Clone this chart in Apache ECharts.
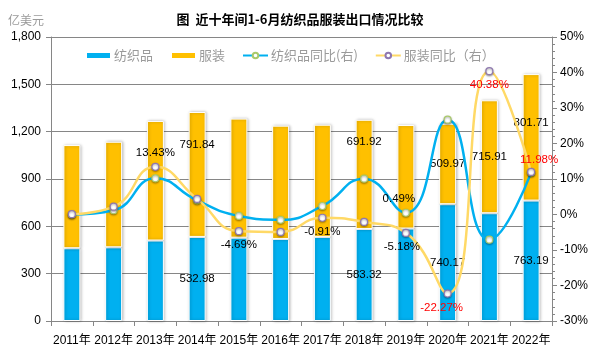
<!DOCTYPE html>
<html><head><meta charset="utf-8">
<script src="https://cdn.jsdelivr.net/npm/echarts@6/dist/echarts.min.js"></script>
<style>html,body{margin:0;padding:0;background:#fff}#c{width:600px;height:363px}</style>
</head><body><div id="c"></div>
<script>
const categories = ['2011年','2012年','2013年','2014年','2015年','2016年','2017年','2018年','2019年','2020年','2021年','2022年'];
const textile = [461, 467, 510, 532.98, 528, 520, 533, 583.32, 586, 740.17, 683, 763.19];
const apparel = [654, 669, 758, 791.84, 755, 718, 711, 691.92, 656, 509.97, 715.91, 801.71];
const textileYoY = [0.0, 1.2, 10.2, 4.0, -0.4, -1.5, 2.4, 10.1, 0.49, 26.7, -7.1, 11.8];
const apparelYoY = [0.1, 2.2, 13.43, 4.4, -4.69, -4.9, -0.91, -2.1, -5.18, -22.27, 40.38, 11.98];
const leftTicks = [0, 300, 600, 900, 1200, 1500, 1800];
const rightTicks = [-30, -20, -10, 0, 10, 20, 30, 40, 50];

const FONT = 'Liberation Sans, Arial, Noto Sans CJK SC, sans-serif';
const CJK = 'Noto Sans CJK SC, sans-serif';

// label styling (which points carry labels)
const textileBarLabel = {3:{}, 7:{}, 9:{}, 11:{}};
const apparelBarLabel = {3:{offset:[0,-30]}, 7:{offset:[0,-33]}, 9:{}, 10:{}, 11:{offset:[0,-15]}};
const apparelLineLabel = {2:{position:'top'}, 4:{position:'bottom'}, 6:{position:'bottom'}, 8:{position:'bottom', offset:[-4,0]},
  9:{position:'bottom', color:'#FF0000', offset:[-6,0]}, 10:{position:'bottom', color:'#FF0000'}, 11:{position:'top', color:'#FF0000', offset:[8,2]}};
const textileLineLabel = {8:{position:'top', offset:[-7,0]}};

function build(values, map, fmt, base) {
  return values.map((v, i) => {
    const m = map[i];
    if (!m) return {value: v, label: {show: false}};
    return {value: v, label: Object.assign({show: true, formatter: () => fmt(v)}, base, m)};
  });
}
const lbl = {fontSize: 11.5, fontFamily: FONT, color: '#000'};
const barShadow = {borderColor:'#fff', borderWidth:1, shadowColor:'rgba(0,0,0,0.28)', shadowBlur:3, shadowOffsetX:1};

const chart = echarts.init(document.getElementById('c'), null, {renderer:'canvas'});
chart.setOption({
  animation: false,
  backgroundColor: '#fff',
  title: [
    {text: '图  近十年间1-6月纺织品服装出口情况比较', left: 'center', top: 8,
     textStyle: {fontSize: 13, fontWeight: 'bold', color: '#000', fontFamily: CJK}},
    {text: '亿美元', left: 3, top: 9, textStyle: {fontSize: 12, fontWeight: 'normal', color: '#9a9a9a', fontFamily: CJK}}
  ],
  legend: {
    left: 80, top: 44, itemWidth: 25, itemHeight: 7, itemGap: 17,
    textStyle: {fontSize: 13, color: '#9a9a9a', fontFamily: CJK, padding:[0,0,0,-2]},
    data: [
      {name: '纺织品', icon: 'rect'},
      {name: '服装', icon: 'rect'},
      {name: '纺织品同比(右)'},
      {name: '服装同比（右）'}
    ]
  },
  grid: {left: 51, right: 48, top: 37, bottom: 42},
  xAxis: {
    type: 'category', data: categories, boundaryGap: true,
    axisLine: {lineStyle: {color: '#868686'}},
    axisTick: {show: true, alignWithLabel: false, length: 5, lineStyle: {color: '#868686'}},
    axisLabel: {fontSize: 12, color: '#000', fontFamily: FONT, margin: 14, interval: 0}
  },
  yAxis: [
    {type: 'value', min: leftTicks[0], max: leftTicks[leftTicks.length-1], interval: 300,
     axisLine: {show: true, lineStyle: {color: '#868686'}},
     axisTick: {show: true, length: 5, lineStyle: {color: '#868686'}},
     splitLine: {show: true, lineStyle: {color: '#868686', width: 1}},
     axisLabel: {fontSize: 12, color: '#000', fontFamily: FONT, margin: 10,
       formatter: v => v.toLocaleString('en-US')}},
    {type: 'value', min: rightTicks[0], max: rightTicks[rightTicks.length-1], interval: 10,
     axisLine: {show: true, lineStyle: {color: '#868686'}},
     axisTick: {show: true, length: 5, lineStyle: {color: '#868686'}},
     minorTick: {show: true, splitNumber: 5, length: 3, lineStyle: {color: '#868686'}},
     splitLine: {show: false},
     axisLabel: {fontSize: 12, color: '#000', fontFamily: FONT, margin: 8, formatter: '{value}%'}}
  ],
  series: [
    {name: '纺织品', type: 'bar', stack: 'total', barWidth: 17, z: 2,
     itemStyle: Object.assign({color: '#00B0F0'}, barShadow),
     data: build(textile, textileBarLabel, v => v.toFixed(2), Object.assign({position:'inside'}, lbl))},
    {name: '服装', type: 'bar', stack: 'total', barWidth: 17, z: 2,
     itemStyle: Object.assign({color: '#FFC000'}, barShadow),
     data: build(apparel, apparelBarLabel, v => v.toFixed(2), Object.assign({position:'inside'}, lbl))},
    {name: '纺织品同比(右)', type: 'line', yAxisIndex: 1, smooth: 0.5, z: 4,
     symbol: 'circle', symbolSize: 7,
     lineStyle: {color: '#00B0F0', width: 2.5},
     itemStyle: {color: '#fff', borderColor: '#A9C96A', borderWidth: 1.2, shadowColor:'rgba(0,0,0,0.35)', shadowBlur:2, shadowOffsetY:1},
     data: build(textileYoY, textileLineLabel, v => v.toFixed(2) + '%', Object.assign({distance: 4}, lbl))},
    {name: '服装同比（右）', type: 'line', yAxisIndex: 1, smooth: 0.5, z: 5,
     symbol: 'circle', symbolSize: 7,
     lineStyle: {color: '#FFD966', width: 2.5},
     itemStyle: {color: '#fff', borderColor: '#8F78B0', borderWidth: 1.2, shadowColor:'rgba(0,0,0,0.35)', shadowBlur:2, shadowOffsetY:1},
     data: build(apparelYoY, apparelLineLabel, v => v.toFixed(2) + '%', Object.assign({distance: 4}, lbl))}
  ]
});
</script></body></html>
